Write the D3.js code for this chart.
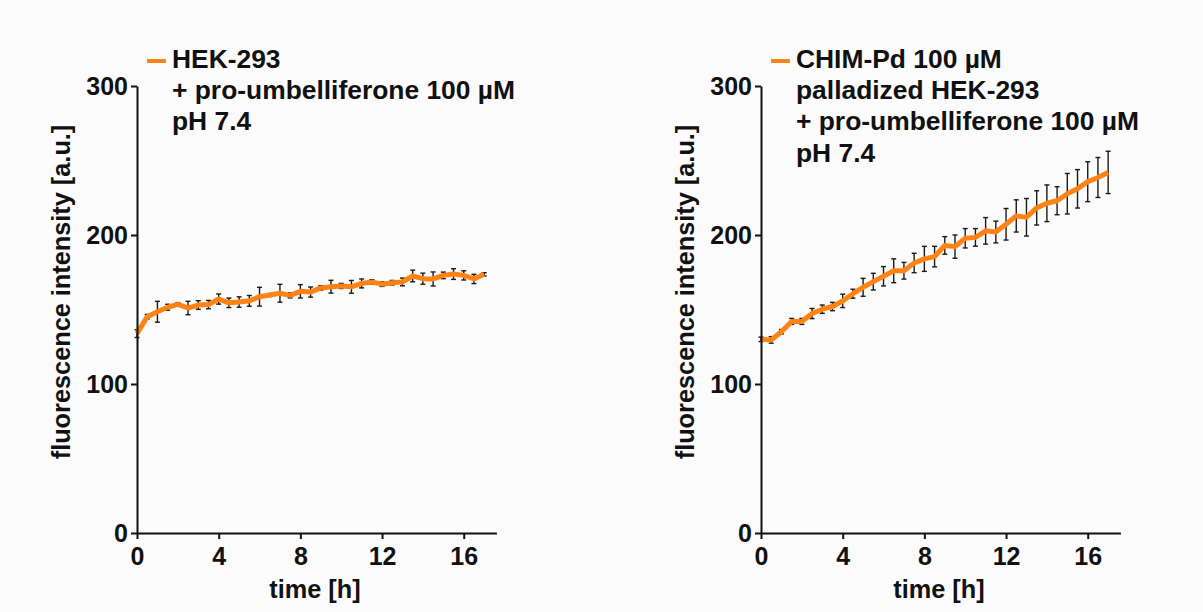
<!DOCTYPE html>
<html>
<head>
<meta charset="utf-8">
<script src="https://cdn.jsdelivr.net/npm/d3@7"></script>
<style>
  html, body { margin: 0; padding: 0; background: #fbfbfb; }
  svg { display: block; }
  text { font-family: "Liberation Sans", Arial, Helvetica, sans-serif; font-weight: bold; fill: #111; }
</style>
</head>
<body>
<svg id="chart" width="1203" height="612"></svg>
<script>
// Sampling times (h)
const hours = [0, 0.5, 1, 1.5, 2, 2.5, 3, 3.5, 4, 4.5, 5, 5.5, 6, 6.5, 7, 7.5, 8, 8.5,
               9, 9.5, 10, 10.5, 11, 11.5, 12, 12.5, 13, 13.5, 14, 14.5, 15, 15.5, 16, 16.5, 17];

// HEK-293 + pro-umbelliferone: mean fluorescence and error
const hekMean = [133.8, 145.2, 148.5, 151.5, 153.5, 151.0, 153.0, 153.3, 157.0, 154.5, 155.0, 155.8,
                 158.6, 159.7, 160.9, 159.5, 162.2, 161.7, 164.5, 165.3, 165.8, 165.2, 167.5, 168.5,
                 167.0, 168.0, 168.5, 172.5, 170.7, 170.5, 172.9, 173.8, 172.9, 170.5, 173.6];
const hekErr  = [2.6, 1.5, 7.0, 2.0, 1.1, 4.5, 2.9, 2.8, 3.4, 3.2, 3.5, 3.6,
                 6.3, 1.0, 6.0, 1.7, 4.5, 3.4, 1.5, 4.3, 1.7, 4.3, 3.0, 1.5,
                 1.5, 1.5, 2.6, 3.9, 3.7, 4.7, 2.2, 3.6, 3.1, 3.1, 1.1];

// Palladized HEK-293 (CHIM-Pd) + pro-umbelliferone: mean fluorescence and error
const pdMean = [130.0, 129.6, 135.1, 142.0, 142.0, 147.3, 150.2, 152.0, 155.8, 160.6, 164.9, 168.7,
                172.3, 176.0, 176.0, 181.2, 184.0, 185.5, 193.0, 192.2, 197.8, 198.4, 202.8, 202.0,
                207.2, 212.8, 211.9, 218.2, 221.3, 223.0, 227.7, 231.0, 235.8, 238.6, 242.0];
const pdErr  = [1.5, 2.2, 1.5, 2.0, 2.0, 3.4, 2.8, 2.8, 4.5, 3.0, 6.0, 5.6,
                6.5, 8.0, 5.6, 6.5, 8.4, 6.9, 5.9, 7.8, 6.5, 5.9, 8.9, 7.3,
                10.6, 10.8, 12.6, 11.5, 12.3, 9.4, 13.6, 12.9, 13.4, 13.4, 14.2];

const yTicks = [0, 100, 200, 300];
const xTicks = [0, 4, 8, 12, 16];

const legendHek = ["HEK-293", "+ pro-umbelliferone 100 µM", "pH 7.4"];
const legendPd  = ["CHIM-Pd 100 µM", "palladized HEK-293", "+ pro-umbelliferone 100 µM", "pH 7.4"];

const yTitle = "fluorescence intensity [a.u.]";
const xTitle = "time [h]";

// ---- drawing ----
const svg = d3.select("#chart");
const ORANGE = "#ff8214";
const plotTop = 86, plotBottom = 533, plotWidth = 359.4;

function label(parent, x, y, str, size, anchor, rot) {
  return parent.append("text")
    .attr("transform", `translate(${x},${y})` + (rot ? ` rotate(${rot})` : ""))
    .attr("text-anchor", anchor)
    .style("font-size", size + "px")
    .text(str);
}

function panel(left, mean, err, legend) {
  const x = d3.scaleLinear().domain([0, 17.6]).range([left, left + plotWidth]);
  const y = d3.scaleLinear().domain([0, 300]).range([plotBottom, plotTop]);
  const g = svg.append("g");
  const pts = hours.map((t, i) => ({ t, m: mean[i], e: err[i] }));

  // error bars
  const eb = g.append("g").attr("stroke", "#1a1a1a").attr("stroke-width", 1.4).attr("fill", "none");
  pts.forEach(p => {
    const cx = x(p.t), y1 = y(p.m + p.e), y2 = y(p.m - p.e);
    eb.append("line").attr("x1", cx).attr("x2", cx).attr("y1", y1).attr("y2", y2);
    eb.append("line").attr("x1", cx - 2.5).attr("x2", cx + 2.5).attr("y1", y1).attr("y2", y1);
    eb.append("line").attr("x1", cx - 2.5).attr("x2", cx + 2.5).attr("y1", y2).attr("y2", y2);
  });

  // mean curve
  g.append("path")
    .datum(pts)
    .attr("fill", "none")
    .attr("stroke", ORANGE)
    .attr("stroke-width", 5)
    .attr("stroke-linejoin", "round")
    .attr("d", d3.line().x(d => x(d.t)).y(d => y(d.m)));

  // axes
  const yAx = g.append("g")
    .attr("transform", `translate(${left},0)`)
    .call(d3.axisLeft(y).tickValues(yTicks).tickFormat(d3.format("d"))
      .tickSize(6).tickSizeOuter(0).tickPadding(3));
  const xAx = g.append("g")
    .attr("transform", `translate(0,${plotBottom})`)
    .call(d3.axisBottom(x).tickValues(xTicks).tickFormat(d3.format("d"))
      .tickSize(6).tickSizeOuter(0).tickPadding(8));

  [yAx, xAx].forEach(a => {
    a.attr("font-size", null).attr("font-family", null);
    a.select(".domain").attr("stroke", "#111").attr("stroke-width", 2);
    a.selectAll(".tick line").attr("stroke", "#111").attr("stroke-width", 2);
    a.selectAll(".tick text").style("font-size", "25px").attr("fill", "#111");
  });

  // axis titles
  label(g, left - 67, 292, yTitle, 25.3, "middle", -90);
  label(g, left + 178, 598, xTitle, 25.3, "middle");

  // legend
  g.append("line")
    .attr("x1", left + 10).attr("x2", left + 29)
    .attr("y1", 61).attr("y2", 61)
    .attr("stroke", ORANGE).attr("stroke-width", 4);
  legend.forEach((s, i) => label(g, left + 35, 68 + i * 31.2, s, 26.4, "start"));
}

panel(137, hekMean, hekErr, legendHek);
panel(761, pdMean, pdErr, legendPd);
</script>
</body>
</html>
